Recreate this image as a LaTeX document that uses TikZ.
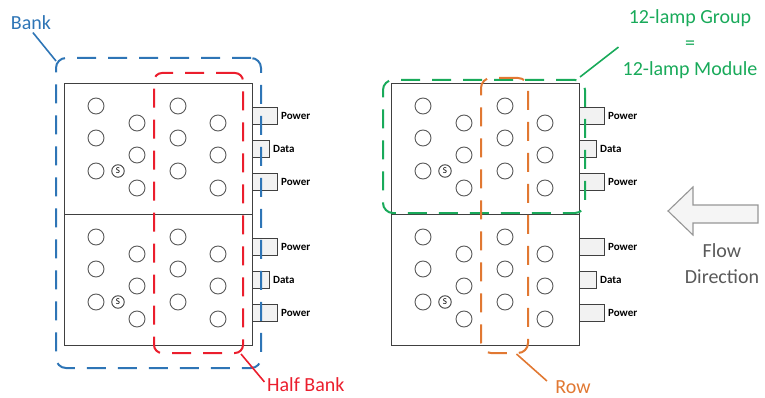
\documentclass[tikz,border=0pt]{standalone}
\usepackage{fontspec}
\setmainfont{Carlito}
\usetikzlibrary{positioning,calc}
\definecolor{bankblue}{RGB}{46,117,182}
\definecolor{halfred}{RGB}{235,30,45}
\definecolor{grpgreen}{RGB}{25,170,90}
\definecolor{roworange}{RGB}{225,120,50}
\definecolor{flowgray}{RGB}{150,150,150}

\begin{document}
\begin{tikzpicture}[x=1pt, y=-1pt,
  block/.style={rectangle, draw=black!75, line width=1.1pt, minimum width=188pt,
    minimum height=131pt, anchor=north west, inner sep=0pt},
  lamp/.style={circle, draw=black!65, line width=0.9pt, minimum size=16pt, inner sep=0pt},
  slamp/.style={circle, draw=black!75, line width=0.9pt, minimum size=12.5pt, inner sep=0pt,
    font=\fontsize{9}{9}\selectfont},
  port/.style={rectangle, draw=black!75, line width=0.9pt, fill=black!5,
    minimum height=17pt, inner sep=0pt, anchor=north west},
  portlbl/.style={font=\fontsize{11}{12}\selectfont\bfseries, inner sep=0pt},
  grp/.style={rectangle, rounded corners=10pt, line width=2pt,
    dash pattern=on 19pt off 12pt, inner sep=0pt},
  lbl/.style={font=\fontsize{20}{26}\selectfont, align=center, inner sep=0pt},
  lead/.style={line width=1.6pt}]
\useasboundingbox (0,0) rectangle (765,398);

% the four 12-lamp modules
\foreach \bx/\by/\n in {64/83/lt, 64/214/lb, 391/83/rt, 391/214/rb}{
  \begin{scope}[shift={(\bx,\by)}]
    \node[block] (\n) at (0,0) {};
    \foreach \cx/\cy [count=\i] in {32/23, 32/55, 32/88, 73/40, 73/72, 73/105,
        114/23, 114/55, 114/88, 154/40, 154/72, 154/105}
      \node[lamp] (\n-l\i) at (\cx,\cy) {};
    \node[slamp] (\n-s) at (54,88) {S};
    \node[port, minimum width=25pt] (\n-p1) at (188,24) {};
    \node[port, minimum width=17pt] (\n-d) at (188,57) {};
    \node[port, minimum width=25pt] (\n-p2) at (188,90) {};
    \node[portlbl, right=3pt of \n-p1] (\n-p1t) {Power};
    \node[portlbl, right=3pt of \n-d] (\n-dt) {Data};
    \node[portlbl, right=3pt of \n-p2] (\n-p2t) {Power};
  \end{scope}
}

% groupings
\node[grp, draw=bankblue, minimum width=205pt, minimum height=310pt] (bank) at (158.5,213) {};
\node[grp, draw=halfred, rounded corners=8pt, minimum width=89pt, minimum height=280pt] (half) at (198.5,213) {};
\node[grp, draw=grpgreen, minimum width=202pt, minimum height=133pt] (group) at (484,146.5) {};
\node[grp, draw=roworange, minimum width=47pt, minimum height=275pt] (row) at (504.5,215.5) {};

% labels
\node[lbl, text=bankblue] (banklbl) at (31,23) {Bank};
\node[lbl, text=halfred, anchor=west] (halflbl) at (267,385) {Half Bank};
\node[lbl, text=roworange] (rowlbl) at (573,387) {Row};
\node[lbl, text=grpgreen] (grouplbl) at (690,44) {12-lamp Group\\=\\12-lamp Module};

\draw[lead, bankblue, shorten <=3pt] (banklbl.south) -- ($(bank.north west)+(1,4)$);
\draw[lead, halfred, shorten >=4pt] ($(half.south east)+(-3,0)$) -- (halflbl.west);
\draw[lead, roworange, shorten >=3pt] ($(row.south)+(12,0)$) -- ($(rowlbl.west)+(-6,-4)$);
\draw[lead, grpgreen, shorten >=5pt] ($(group.north east)+(-6,-2)$) -- (grouplbl.west);

% flow direction
\draw[flowgray, line width=1.1pt, fill=black!4] (758,205) -- (693,205) -- (693,187)
  -- (668,211) -- (693,235) -- (693,223) -- (758,223) -- cycle;
\node[lbl, text=black!65] (flowlbl) at (722,264) {Flow\\Direction};
\end{tikzpicture}
\end{document}
